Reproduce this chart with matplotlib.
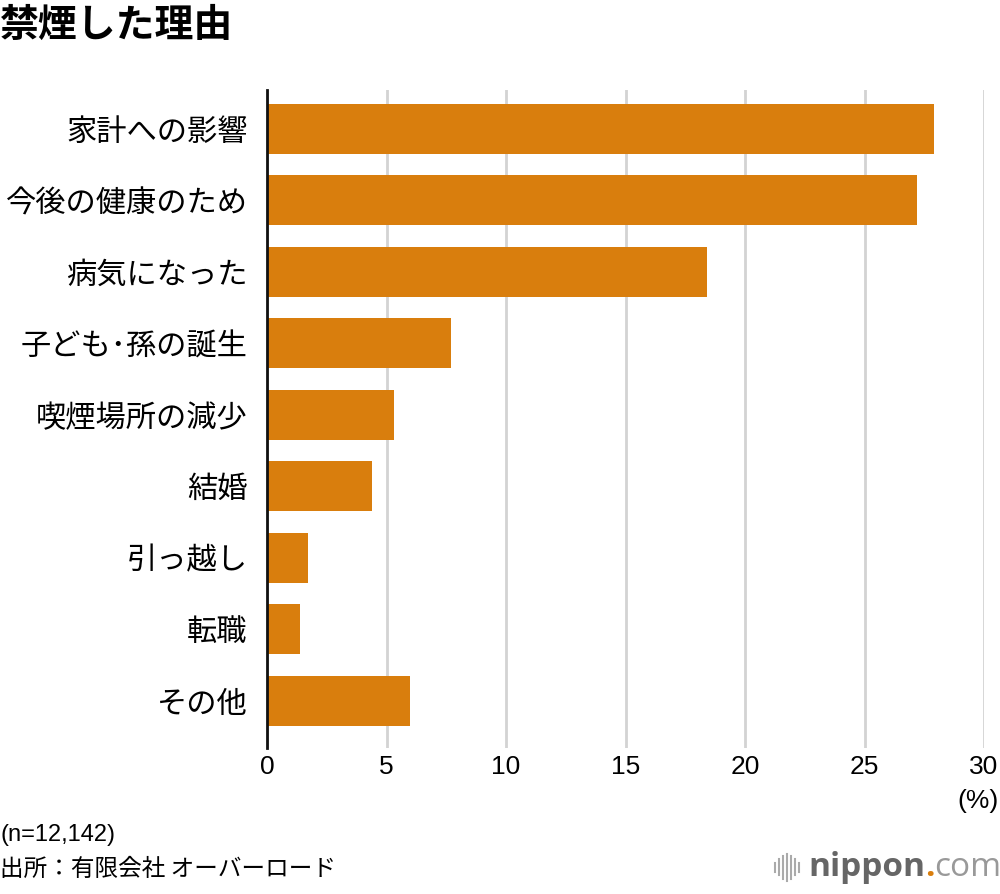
import matplotlib
matplotlib.use("Agg")
import matplotlib.pyplot as plt
from matplotlib.lines import Line2D

# data
categories = ['家計への影響', '今後の健康のため', '病気になった', '子ども･孫の誕生',
              '喫煙場所の減少', '結婚', '引っ越し', '転職', 'その他']
values = [27.9, 27.2, 18.4, 7.7, 5.3, 4.4, 1.7, 1.4, 6.0]
xticks = [0, 5, 10, 15, 20, 25, 30]

plt.rcParams['font.family'] = ['Noto Sans CJK JP', 'DejaVu Sans']

BAR = '#d97e0d'
GRID = '#d3d3d3'
NUMFONT = ['Liberation Sans Narrow', 'Liberation Sans', 'DejaVu Sans']

fig = plt.figure(figsize=(10, 8.94), dpi=100)
ax = fig.add_axes([0.267, 0.1633, 0.717, 0.736])

y = list(range(len(categories)))
ax.barh(y, values, height=0.70, color=BAR, zorder=3)
ax.set_ylim(len(categories) - 1 + 0.66, -0.54)
ax.set_xlim(0, 30)

ax.set_xticks(xticks)
ax.set_xticklabels([str(t) for t in xticks], fontsize=19, family=NUMFONT)
ax.set_yticks(y)
ax.set_yticklabels(categories, fontsize=21.8)
ax.tick_params(axis='both', length=0)
ax.tick_params(axis='x', pad=5)
ax.tick_params(axis='y', pad=14)

ax.grid(axis='x', color=GRID, linewidth=2, zorder=0)
for s in ['top', 'right', 'bottom']:
    ax.spines[s].set_visible(False)
ax.spines['left'].set_linewidth(2)
ax.spines['left'].set_color('#111111')
ax.spines['left'].set_zorder(4)

ax.text(1.02, -0.063, '(%)', transform=ax.transAxes, ha='right', va='top', fontsize=19,
        family=NUMFONT)

# title and footer
fig.text(0.0, 0.972, '禁煙した理由', fontsize=28, fontweight='bold', ha='left', va='center')
fig.text(0.0, 0.066, '(n=12,142)', fontsize=17, ha='left', va='center',
         family=['Liberation Sans', 'DejaVu Sans'])
fig.text(0.0, 0.027, '出所：有限会社 オーバーロード', fontsize=17, ha='left', va='center')

# logo
lx = [0.775, 0.779, 0.783, 0.787, 0.791, 0.795, 0.799]
lh = [0.010, 0.018, 0.026, 0.030, 0.026, 0.018, 0.010]
for xx, hh in zip(lx, lh):
    fig.add_artist(Line2D([xx, xx], [0.030 - hh / 2, 0.030 + hh / 2],
                          color='#aaaaaa', linewidth=1.5))
t1 = fig.text(0.808, 0.030, 'nippon', fontsize=24, fontweight='bold', color='#666666',
              ha='left', va='center', family=['Open Sans', 'DejaVu Sans'])
fig.canvas.draw()
bb = t1.get_window_extent()
t2 = fig.text(bb.x1 / fig.bbox.width, 0.030, '.', fontsize=24, fontweight='bold',
              color='#d97e0d', ha='left', va='center', family=['Open Sans', 'DejaVu Sans'])
bb2 = t2.get_window_extent()
fig.text(bb2.x1 / fig.bbox.width, 0.030, 'com', fontsize=24, color='#999999',
         ha='left', va='center', family=['Open Sans', 'DejaVu Sans'])

fig.savefig('out.png', dpi=100, facecolor='white')
